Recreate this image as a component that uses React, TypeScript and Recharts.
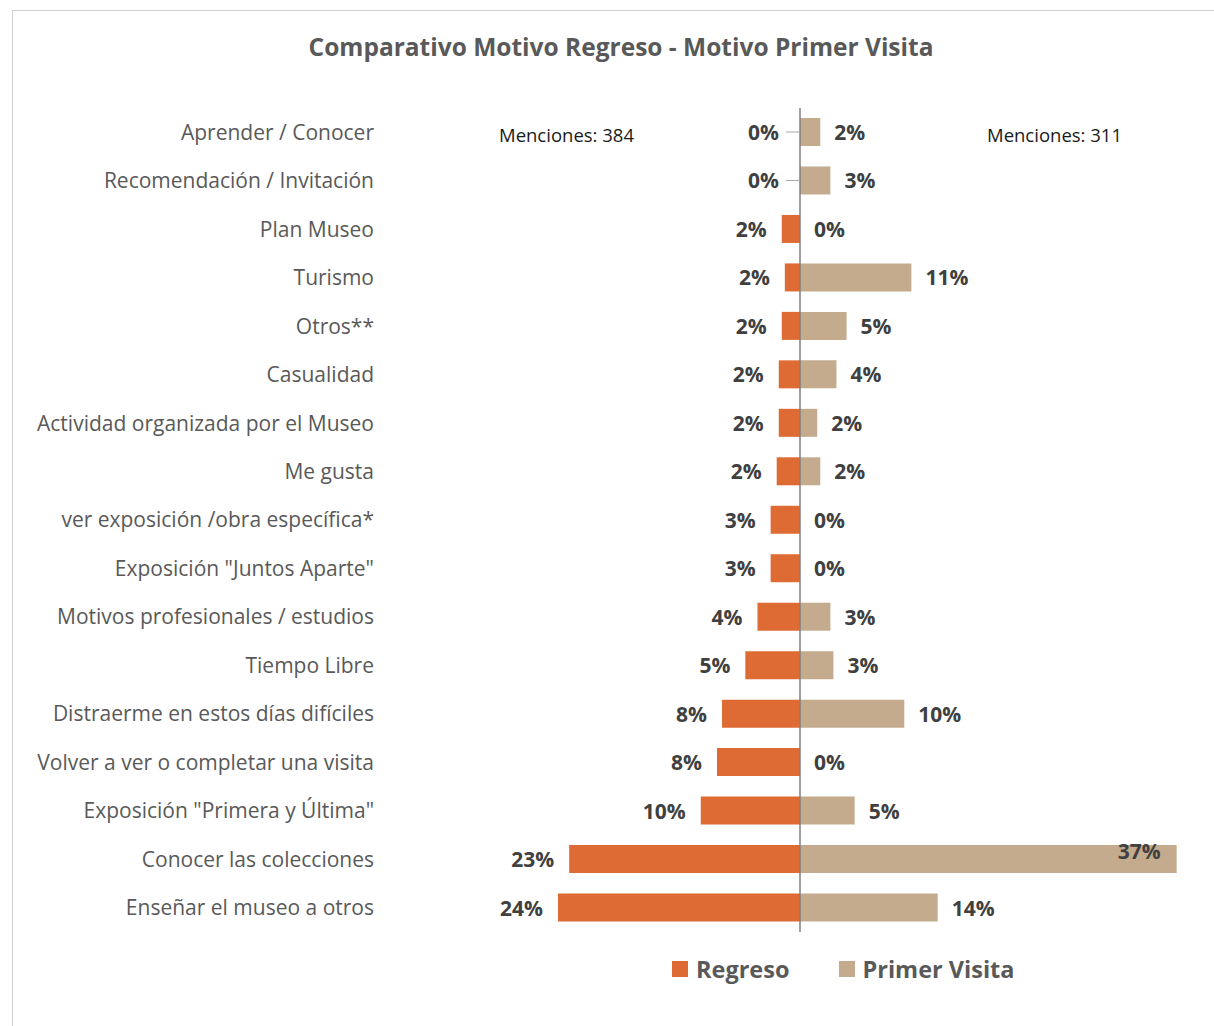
import React from 'react';
import {
  BarChart,
  Bar,
  XAxis,
  YAxis,
  ReferenceLine,
  LabelList,
} from 'recharts';

// Motivos (orden de arriba a abajo)
const categories = [
  'Aprender / Conocer',
  'Recomendación / Invitación',
  'Plan Museo',
  'Turismo',
  'Otros**',
  'Casualidad',
  'Actividad organizada por el Museo',
  'Me gusta',
  'ver exposición /obra específica*',
  'Exposición "Juntos Aparte"',
  'Motivos profesionales / estudios',
  'Tiempo Libre',
  'Distraerme en estos días difíciles',
  'Volver a ver o completar una visita',
  'Exposición "Primera y Última"',
  'Conocer las colecciones',
  'Enseñar el museo a otros',
];

// % de menciones
const regreso = [0, 0, 1.8, 1.5, 1.8, 2.1, 2.1, 2.3, 2.9, 2.9, 4.2, 5.4, 7.7, 8.2, 9.8, 22.8, 23.9];
const primerVisita = [2.0, 3.0, 0, 11.0, 4.6, 3.6, 1.7, 2.0, 0, 0, 3.0, 3.3, 10.3, 0, 5.4, 37.2, 13.6];

const mencionesRegreso = 384;
const mencionesPrimer = 311;

const ORANGE = '#DD6B33';
const TAN = '#C4AB8E';
const FONT = '"Open Sans", Lato, sans-serif';

const data = categories.map((name, i) => ({
  name,
  regreso: -regreso[i],
  primer: primerVisita[i],
}));

const pct = (v: number) => `${Math.round(Math.abs(v))}%`;

const labelStyle = { fill: '#404040', fontWeight: 700, fontSize: 21, fontFamily: FONT };

const LeftLabel = (props: any) => {
  const { x, y, width, height, value } = props;
  const end = Math.min(x, x + width);
  const cy = y + height / 2;
  if (!value) {
    return (
      <g>
        <line x1={end - 14} y1={cy} x2={end - 1} y2={cy} stroke="#a6a6a6" strokeWidth={1} />
        <text x={end - 21} y={cy} dy={8} textAnchor="end" {...labelStyle}>
          {pct(value)}
        </text>
      </g>
    );
  }
  return (
    <text x={end - 15} y={cy} dy={8} textAnchor="end" {...labelStyle}>
      {pct(value)}
    </text>
  );
};

const RightLabel = (props: any) => {
  const { x, y, width, height, value } = props;
  const end = Math.max(x, x + width);
  const cy = y + height / 2;
  if (value > 30) {
    return (
      <text x={end - 16} y={cy} dy={0} textAnchor="end" {...labelStyle}>
        {pct(value)}
      </text>
    );
  }
  return (
    <text x={end + 14} y={cy} dy={8} textAnchor="start" {...labelStyle}>
      {pct(value)}
    </text>
  );
};

export default function App() {
  return (
    <div
      style={{
        position: 'absolute',
        left: 0,
        top: 0,
        width: 1214,
        height: 1026,
        background: '#fff',
        overflow: 'hidden',
        fontFamily: FONT,
      }}
    >
      <div
        style={{
          position: 'absolute',
          left: 12,
          top: 10,
          width: 1220,
          height: 1030,
          borderTop: '1px solid #d0d0d0',
          borderLeft: '1px solid #d0d0d0',
        }}
      />
      <div
        style={{
          position: 'absolute',
          top: 30,
          left: 0,
          width: 1242,
          textAlign: 'center',
          fontSize: 24.5,
          fontWeight: 700,
          color: '#595959',
        }}
      >
        Comparativo Motivo Regreso - Motivo Primer Visita
      </div>
      <div style={{ position: 'absolute', left: 499, top: 122, fontSize: 18.5, color: '#1a1a1a' }}>
        Menciones: {mencionesRegreso}
      </div>
      <div style={{ position: 'absolute', left: 987, top: 122, fontSize: 18.5, color: '#1a1a1a' }}>
        Menciones: {mencionesPrimer}
      </div>
      <BarChart
        width={1214}
        height={1026}
        data={data}
        layout="vertical"
        stackOffset="sign"
        margin={{ top: 108, right: 9, bottom: 94, left: 0 }}
        barSize={28}
      >
        <XAxis type="number" domain={[-40, 40]} hide allowDataOverflow />
        <YAxis
          type="category"
          dataKey="name"
          width={395}
          axisLine={false}
          tickLine={false}
          tickSize={0}
          tickMargin={21}
          interval={0}
          tick={{ fill: '#595959', fontSize: 21, fontFamily: FONT }}
        />
        <Bar dataKey="regreso" stackId="a" fill={ORANGE} minPointSize={0.01} isAnimationActive={false}>
          <LabelList dataKey="regreso" content={<LeftLabel />} />
        </Bar>
        <Bar dataKey="primer" stackId="a" fill={TAN} minPointSize={0.01} isAnimationActive={false}>
          <LabelList dataKey="primer" content={<RightLabel />} />
        </Bar>
        <ReferenceLine x={0} stroke="#7f7f7f" strokeWidth={1.5} />
      </BarChart>
      <div
        style={{
          position: 'absolute',
          top: 953,
          left: 672,
          display: 'flex',
          alignItems: 'center',
          fontWeight: 700,
          fontSize: 23.5,
          color: '#595959',
        }}
      >
        <span style={{ width: 16, height: 16, background: ORANGE, display: 'inline-block', marginRight: 8 }} />
        <span style={{ marginRight: 50 }}>Regreso</span>
        <span style={{ width: 16, height: 16, background: TAN, display: 'inline-block', marginRight: 7 }} />
        <span>Primer Visita</span>
      </div>
    </div>
  );
}
